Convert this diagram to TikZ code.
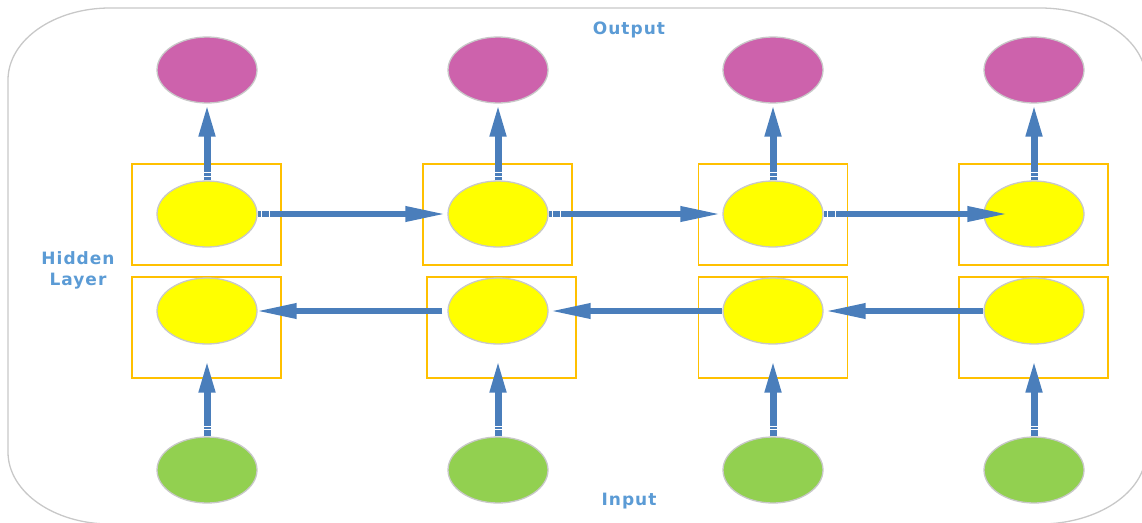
\documentclass[tikz,border=0pt]{standalone}
\usepackage{fontspec}
\usepackage{tikz}
\usetikzlibrary{shapes.geometric, arrows.meta, positioning}
\newfontfamily\lblfont{DejaVu Sans}[LetterSpace=6]
\definecolor{myblue}{RGB}{74,126,187}
\definecolor{mytext}{RGB}{91,155,213}
\definecolor{mypink}{RGB}{205,98,172}
\definecolor{myyellow}{RGB}{255,255,0}
\definecolor{mygreen}{RGB}{146,208,80}
\definecolor{myorange}{RGB}{255,192,0}
\definecolor{mgframe}{RGB}{200,200,200}
\tikzset{
  unit/.style={ellipse, draw=mgframe, line width=1.3pt,
    minimum width=100pt, minimum height=66pt, inner sep=0pt},
  outnode/.style={unit, fill=mypink},
  hidnode/.style={unit, fill=myyellow},
  innode/.style={unit, fill=mygreen},
  cellbox/.style={rectangle, draw=myorange, line width=1.4pt,
    minimum width=149pt, minimum height=101pt, inner sep=0pt},
  label/.style={font=\lblfont\bfseries\fontsize{17}{21}\selectfont,
    color=mytext, align=center},
  uparrow/.style={line width=7pt, color=myblue,
    -{Triangle[length=33pt, width=15pt]}},
  sidearrow/.style={line width=6.5pt, color=myblue,
    -{Triangle[length=42pt, width=14pt]}},
  gapmark/.style={white, line width=1pt}
}

\begin{document}
\begin{tikzpicture}[x=1pt, y=-1pt]
  \useasboundingbox (0,0) rectangle (1142,522);
  % Outer frame
  \draw[mgframe, line width=1.3pt] (8,80) .. controls (8,40) and (54,8) .. (110,8)
    -- (1040,8) .. controls (1098,8) and (1146,40) .. (1146,80)
    -- (1146,452) .. controls (1146,492) and (1098,524) .. (1040,524)
    -- (110,524) .. controls (54,524) and (8,492) .. (8,452) -- cycle;
  % Layer labels
  \node[label] (lout) at (629,30) {Output};
  \node[label] (lin) at (629,501) {Input};
  \node[label] (lhid) at (78,270) {Hidden\\Layer};
  % Cell boxes
  \node[cellbox] (bu1) at (206.5,214.5) {};
  \node[cellbox] (bu2) at (497.5,214.5) {};
  \node[cellbox] (bu3) at (773,214.5) {};
  \node[cellbox] (bu4) at (1033.5,214.5) {};
  \node[cellbox] (bd1) at (206.5,327.5) {};
  \node[cellbox] (bd2) at (501.5,327.5) {};
  \node[cellbox] (bd3) at (773,327.5) {};
  \node[cellbox] (bd4) at (1033.5,327.5) {};
  % Output layer
  \node[outnode] (out1) at (207,70) {};
  \node[outnode] (out2) at (498,70) {};
  \node[outnode] (out3) at (773,70) {};
  \node[outnode] (out4) at (1034,70) {};
  % Forward hidden units
  \node[hidnode] (hup1) at (207,214) {};
  \node[hidnode] (hup2) at (498,214) {};
  \node[hidnode] (hup3) at (773,214) {};
  \node[hidnode] (hup4) at (1034,214) {};
  % Backward hidden units
  \node[hidnode] (hdn1) at (207,311) {};
  \node[hidnode] (hdn2) at (498,311) {};
  \node[hidnode] (hdn3) at (773,311) {};
  \node[hidnode] (hdn4) at (1034,311) {};
  % Input layer
  \node[innode] (in1) at (207,470) {};
  \node[innode] (in2) at (498,470) {};
  \node[innode] (in3) at (773,470) {};
  \node[innode] (in4) at (1034,470) {};
  % Hidden to output
  \draw[uparrow] (hup1.north) -- (out1.south);
  \draw[uparrow] (hup2.north) -- (out2.south);
  \draw[uparrow] (hup3.north) -- (out3.south);
  \draw[uparrow] (hup4.north) -- (out4.south);
  % Input to hidden
  \draw[uparrow, shorten >=15pt] (in1.north) -- (hdn1.south);
  \draw[uparrow, shorten >=15pt] (in2.north) -- (hdn2.south);
  \draw[uparrow, shorten >=15pt] (in3.north) -- (hdn3.south);
  \draw[uparrow, shorten >=15pt] (in4.north) -- (hdn4.south);
  % Forward recurrence
  \draw[sidearrow] (hup1.east) -- (hup2.west);
  \draw[sidearrow] (hup2.east) -- (hup3.west);
  \draw[sidearrow, shorten >=-26pt] (hup3.east) -- (hup4.west);
  % Backward recurrence
  \draw[sidearrow, shorten <=5pt, shorten >=-3pt] (hdn2.west) -- (hdn1.east);
  \draw[sidearrow] (hdn3.west) -- (hdn2.east);
  \draw[sidearrow] (hdn4.west) -- (hdn3.east);
  % Joints on the connectors
  \draw[gapmark] ([yshift=4pt]hup1.north) +(-6,0) -- +(6,0);
  \draw[gapmark] ([yshift=8pt]hup1.north) +(-6,0) -- +(6,0);
  \draw[gapmark] ([yshift=4pt]hup2.north) +(-6,0) -- +(6,0);
  \draw[gapmark] ([yshift=8pt]hup2.north) +(-6,0) -- +(6,0);
  \draw[gapmark] ([yshift=4pt]hup3.north) +(-6,0) -- +(6,0);
  \draw[gapmark] ([yshift=8pt]hup3.north) +(-6,0) -- +(6,0);
  \draw[gapmark] ([yshift=4pt]hup4.north) +(-6,0) -- +(6,0);
  \draw[gapmark] ([yshift=8pt]hup4.north) +(-6,0) -- +(6,0);
  \draw[gapmark] ([yshift=7pt]in1.north) +(-6,0) -- +(6,0);
  \draw[gapmark] ([yshift=10pt]in1.north) +(-6,0) -- +(6,0);
  \draw[gapmark] ([yshift=7pt]in2.north) +(-6,0) -- +(6,0);
  \draw[gapmark] ([yshift=10pt]in2.north) +(-6,0) -- +(6,0);
  \draw[gapmark] ([yshift=7pt]in3.north) +(-6,0) -- +(6,0);
  \draw[gapmark] ([yshift=10pt]in3.north) +(-6,0) -- +(6,0);
  \draw[gapmark] ([yshift=7pt]in4.north) +(-6,0) -- +(6,0);
  \draw[gapmark] ([yshift=10pt]in4.north) +(-6,0) -- +(6,0);
  \draw[gapmark] ([xshift=4pt]hup1.east) +(0,-5) -- +(0,5);
  \draw[gapmark] ([xshift=12pt]hup1.east) +(0,-5) -- +(0,5);
  \draw[gapmark] ([xshift=4pt]hup2.east) +(0,-5) -- +(0,5);
  \draw[gapmark] ([xshift=12pt]hup2.east) +(0,-5) -- +(0,5);
  \draw[gapmark] ([xshift=4pt]hup3.east) +(0,-5) -- +(0,5);
  \draw[gapmark] ([xshift=12pt]hup3.east) +(0,-5) -- +(0,5);
\end{tikzpicture}
\end{document}
